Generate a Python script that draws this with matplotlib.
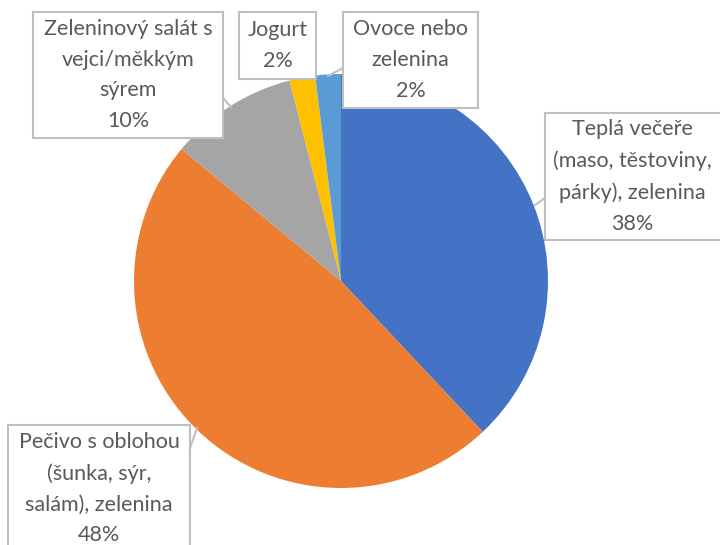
import matplotlib
matplotlib.use("Agg")
import matplotlib.pyplot as plt

categories = ["Teplá večeře\n(maso, těstoviny,\npárky), zelenina",
              "Pečivo s oblohou\n(šunka, sýr,\nsalám), zelenina",
              "Zeleninový salát s\nvejci/měkkým\nsýrem",
              "Jogurt",
              "Ovoce nebo\nzelenina"]
values = [38, 48, 10, 2, 2]
colors = ["#4472C4", "#ED7D31", "#A5A5A5", "#FFC000", "#5B9BD5"]

W, H = 720, 545
fig = plt.figure(figsize=(7.2, 5.45), dpi=100)
ax = fig.add_axes([0, 0, 1, 1])

cx, cy, r = 341, H - 281, 207
ax.pie(values, colors=colors, startangle=90, counterclock=False,
       center=(cx, cy), radius=r, frame=True,
       wedgeprops=dict(linewidth=0))
ax.set_xlim(0, W)
ax.set_ylim(0, H)
ax.set_aspect("equal")
ax.axis("off")

# label boxes: (x0, y_top, x1, y_bottom) in image pixels, pointer tip, pointer base
boxes = [
    ((545, 113, 730, 240), (535, 205), (545, 198)),
    ((8, 425, 190, 560), (197, 428), (190, 448)),
    ((33, 12, 223, 138), (231, 107), (223, 98)),
    ((239, 12, 316, 79), None, None),
    ((343, 12, 478, 108), (328, 76), (343, 68)),
]
edge = "#BFBFBF"
txtc = "#595959"
for (b, tip, base), cat, v in zip(boxes, categories, values):
    x0, y0, x1, y1 = b
    rect = plt.Rectangle((x0, H - y1), x1 - x0, y1 - y0, facecolor="white",
                         edgecolor=edge, linewidth=1.5, zorder=3)
    ax.add_patch(rect)
    if tip is not None:
        ax.plot([base[0], tip[0]], [H - base[1], H - tip[1]], color=edge,
                linewidth=1.5, zorder=2)
    xc = (x0 + min(x1, W)) / 2
    yc = (y0 + min(y1, 552)) / 2
    ax.text(xc, H - yc, f"{cat}\n{v}%", ha="center", va="center",
            fontsize=15.5, family=["Lato", "DejaVu Sans"], color=txtc,
            linespacing=1.68, zorder=4)

fig.savefig("out.png", dpi=100)
